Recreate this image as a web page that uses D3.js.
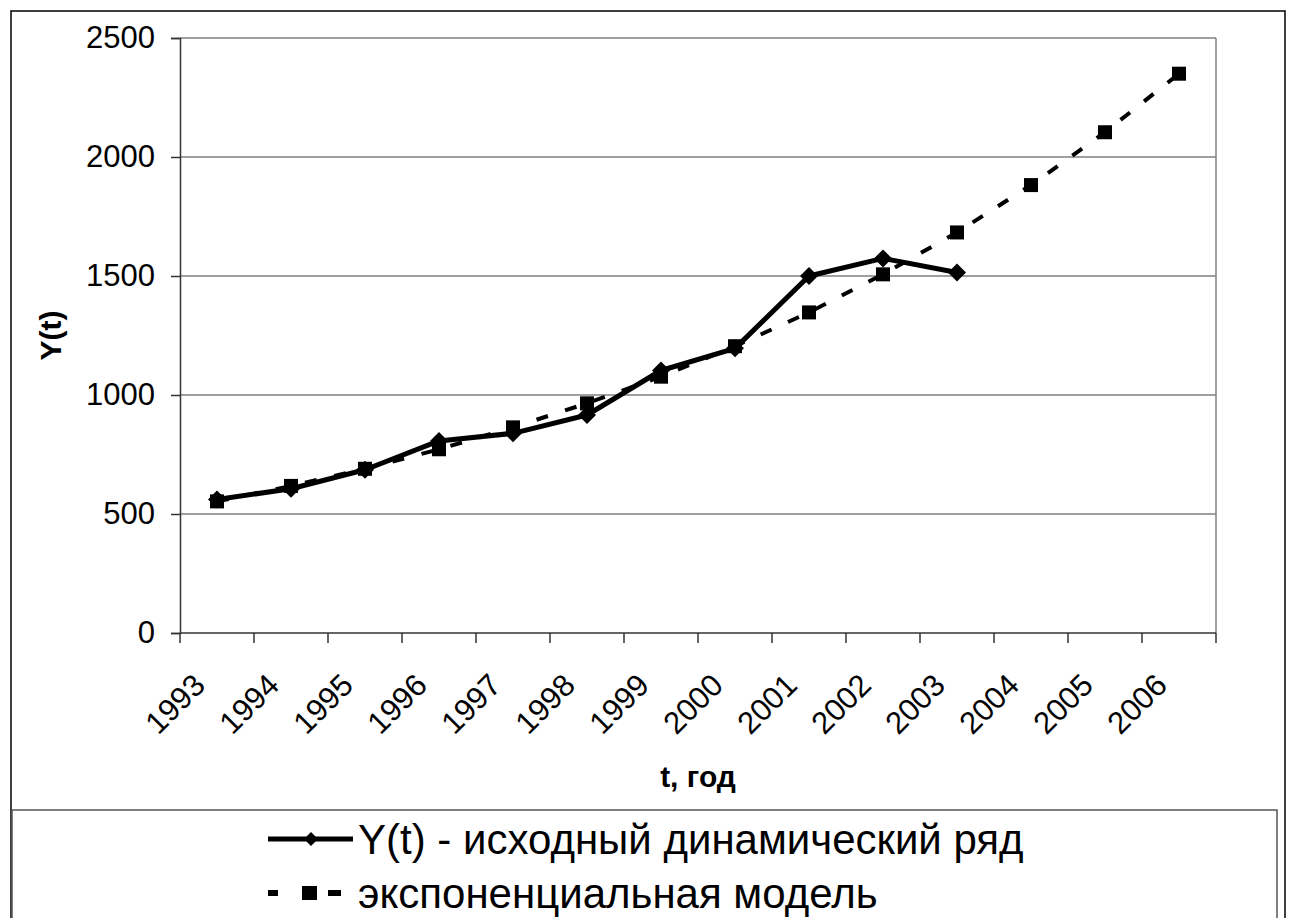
<!DOCTYPE html>
<html>
<head>
<meta charset="utf-8">
<script src="https://cdn.jsdelivr.net/npm/d3@7"></script>
<style>
  body { margin: 0; background: #fff; }
  svg { display: block; font-family: "Liberation Sans", Arial, sans-serif; }
</style>
</head>
<body>
<svg></svg>
<script>
const years = ["1993", "1994", "1995", "1996", "1997", "1998", "1999", "2000", "2001", "2002", "2003", "2004", "2005", "2006"];
const actual = [561, 606, 686, 807, 839, 916, 1103, 1196, 1500, 1574, 1515];
const expModel = [553, 618, 690, 772, 864, 965, 1077, 1205, 1347, 1507, 1683, 1882, 2104, 2350];
const yTicks = [0, 500, 1000, 1500, 2000, 2500];
const seriesNames = ["Y(t) - исходный динамический ряд", "экспоненциальная модель"];

const width = 1290, height = 918;
const plot = { left: 180, top: 38, right: 1216, bottom: 633 };

const svg = d3.select("svg")
    .attr("width", width)
    .attr("height", height);

// outer frame
svg.append("rect")
    .attr("x", 11).attr("y", 11)
    .attr("width", 1274).attr("height", 940)
    .attr("fill", "none")
    .attr("stroke", "#000")
    .attr("stroke-width", 1.5);

const x = d3.scaleBand()
    .domain(years)
    .range([plot.left, plot.right]);
const y = d3.scaleLinear()
    .domain([0, 2500])
    .range([plot.bottom, plot.top]);
const cx = d => x(d) + x.bandwidth() / 2;

// gridlines
svg.append("g")
    .selectAll("line")
    .data(yTicks.filter(t => t > 0))
    .enter().append("line")
    .attr("x1", plot.left).attr("x2", plot.right)
    .attr("y1", d => y(d)).attr("y2", d => y(d))
    .attr("stroke", "#808080")
    .attr("stroke-width", 1.5);

// right border of plot
svg.append("line")
    .attr("x1", plot.right).attr("x2", plot.right)
    .attr("y1", plot.top).attr("y2", plot.bottom)
    .attr("stroke", "#808080")
    .attr("stroke-width", 1.5);

// y axis
const yAxis = svg.append("g")
    .attr("transform", `translate(${plot.left},0)`)
    .call(d3.axisLeft(y).tickValues(yTicks).tickFormat(d3.format("d")).tickSize(9).tickPadding(16));
yAxis.select(".domain").attr("stroke", "#333").attr("stroke-width", 1.5);
yAxis.selectAll(".tick line").attr("stroke", "#333").attr("stroke-width", 1.5);
yAxis.selectAll(".tick text")
    .attr("font-size", 31)
    .attr("font-family", "Liberation Sans, Arial, sans-serif")
    .attr("fill", "#000");

// x axis with ticks between categories
const xAxis = svg.append("g")
    .attr("transform", `translate(0,${plot.bottom})`);
xAxis.append("line")
    .attr("x1", plot.left).attr("x2", plot.right)
    .attr("stroke", "#333").attr("stroke-width", 1.5);
const bounds = years.map(d => x(d)).concat([plot.right]);
xAxis.selectAll(".tk")
    .data(bounds)
    .enter().append("line")
    .attr("class", "tk")
    .attr("x1", d => d).attr("x2", d => d)
    .attr("y1", 0).attr("y2", 10)
    .attr("stroke", "#333").attr("stroke-width", 1.5);
xAxis.selectAll("text")
    .data(years)
    .enter().append("text")
    .attr("transform", d => `translate(${cx(d) - 10},${54}) rotate(-45)`)
    .attr("text-anchor", "end")
    .attr("font-size", 31)
    .attr("fill", "#000")
    .text(d => d);

// axis titles
svg.append("text")
    .attr("x", (plot.left + plot.right) / 2)
    .attr("y", 787)
    .attr("text-anchor", "middle")
    .attr("font-size", 30)
    .attr("font-weight", "bold")
    .text("t, год");
svg.append("text")
    .attr("transform", `translate(61,${(plot.top + plot.bottom) / 2}) rotate(-90)`)
    .attr("text-anchor", "middle")
    .attr("font-size", 30)
    .attr("font-weight", "bold")
    .text("Y(t)");

// exponential model: dashed line with squares
const line = d3.line().x(d => cx(d.year)).y(d => y(d.v));
const expData = expModel.map((v, i) => ({ year: years[i], v }));
const actData = actual.map((v, i) => ({ year: years[i], v }));

svg.append("path")
    .datum(expData)
    .attr("d", line)
    .attr("fill", "none")
    .attr("stroke", "#000")
    .attr("stroke-width", 4)
    .attr("stroke-dasharray", "12,18");

const sq = 14;
svg.append("g")
    .selectAll("rect")
    .data(expData)
    .enter().append("rect")
    .attr("x", d => cx(d.year) - sq / 2)
    .attr("y", d => y(d.v) - sq / 2)
    .attr("width", sq).attr("height", sq)
    .attr("fill", "#000");

// original series: solid line with diamonds
svg.append("path")
    .datum(actData)
    .attr("d", line)
    .attr("fill", "none")
    .attr("stroke", "#000")
    .attr("stroke-width", 5)
    .attr("stroke-linejoin", "round");

const diamond = (px, py, r) => `M${px},${py - r}L${px + r},${py}L${px},${py + r}L${px - r},${py}Z`;
svg.append("g")
    .selectAll("path")
    .data(actData)
    .enter().append("path")
    .attr("d", d => diamond(cx(d.year), y(d.v), 9))
    .attr("fill", "#000");

// legend
svg.append("rect")
    .attr("x", 12).attr("y", 810)
    .attr("width", 1265).attr("height", 200)
    .attr("fill", "#fff")
    .attr("stroke", "#555")
    .attr("stroke-width", 1.5);

const lg = svg.append("g");
const rowY = [839, 893];
lg.append("line")
    .attr("x1", 268).attr("x2", 353)
    .attr("y1", rowY[0]).attr("y2", rowY[0])
    .attr("stroke", "#000").attr("stroke-width", 5);
lg.append("path")
    .attr("d", diamond(311, rowY[0], 7))
    .attr("fill", "#000");
lg.append("line")
    .attr("x1", 268).attr("x2", 341)
    .attr("y1", rowY[1]).attr("y2", rowY[1])
    .attr("stroke", "#000").attr("stroke-width", 6)
    .attr("stroke-dasharray", "10,50,13");
lg.append("rect")
    .attr("x", 302).attr("y", rowY[1] - 7)
    .attr("width", 15).attr("height", 14)
    .attr("fill", "#000");
lg.selectAll("text")
    .data(seriesNames)
    .enter().append("text")
    .attr("x", 358)
    .attr("y", (d, i) => rowY[i] + 15)
    .attr("font-size", 42)
    .attr("fill", "#000")
    .text(d => d);
</script>
</body>
</html>
